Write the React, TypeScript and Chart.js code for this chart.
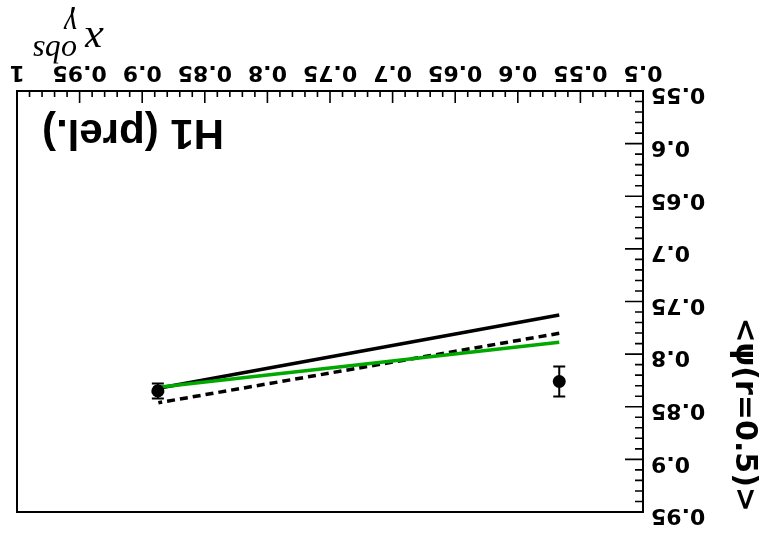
import React, { useEffect, useRef } from "react";
import { Chart, registerables } from "chart.js";
Chart.register(...registerables);

// Axis ranges and tick steps
const xRange = [0.5, 1];
const yRange = [0.55, 0.95];
const xMajorStep = 0.05;
const xMinorStep = 0.01;
const yMajorStep = 0.05;
const yMinorStep = 0.01;

// Measured data points (H1 prel.)
const dataX = [0.5669, 0.8875];
const dataY = [0.826, 0.835];
const dataErr = [0.0143, 0.0071];

// Theory curves (two-point lines)
const curveX = [0.5669, 0.8871];
const solidBlackY = [0.7628, 0.8324];
const dashedBlackY = [0.7802, 0.8462];
const greenY = [0.7888, 0.8315];

const yTitle = "<\u03c8(r=0.5)>";
const plotLabel = "H1 (prel.)";

const W = 762;
const H = 537;
const LABEL_FONT = "'DejaVu Sans', 'Liberation Sans', sans-serif";

const fmt = (v: number) => String(Number(v.toFixed(2)));

const rootStyle = {
  id: "rootStyle",
  afterDatasetsDraw(chart: any) {
    const ctx = chart.ctx;
    const xs = chart.scales.x;
    const ys = chart.scales.y;
    ctx.save();
    ctx.strokeStyle = "#000";
    ctx.lineWidth = 2;
    for (let i = 0; i < dataX.length; i++) {
      const px = xs.getPixelForValue(dataX[i]);
      const top = ys.getPixelForValue(dataY[i] + dataErr[i]);
      const bot = ys.getPixelForValue(dataY[i] - dataErr[i]);
      ctx.beginPath();
      ctx.moveTo(px, top);
      ctx.lineTo(px, bot);
      ctx.moveTo(px - 6, top);
      ctx.lineTo(px + 6, top);
      ctx.moveTo(px - 6, bot);
      ctx.lineTo(px + 6, bot);
      ctx.stroke();
    }
    ctx.restore();
  },
  afterDraw(chart: any) {
    const ctx = chart.ctx;
    const a = chart.chartArea;
    const xs = chart.scales.x;
    const ys = chart.scales.y;
    ctx.save();
    ctx.strokeStyle = "#000";
    ctx.lineWidth = 2;
    ctx.strokeRect(a.left, a.top, a.right - a.left, a.bottom - a.top);
    ctx.lineWidth = 1.6;
    ctx.beginPath();
    const nx = Math.round((xRange[1] - xRange[0]) / xMinorStep);
    for (let i = 0; i <= nx; i++) {
      const v = xRange[0] + i * xMinorStep;
      const px = xs.getPixelForValue(v);
      const len = i % Math.round(xMajorStep / xMinorStep) === 0 ? 12 : 6;
      ctx.moveTo(px, a.bottom);
      ctx.lineTo(px, a.bottom - len);
    }
    const ny = Math.round((yRange[1] - yRange[0]) / yMinorStep);
    for (let i = 0; i <= ny; i++) {
      const v = yRange[0] + i * yMinorStep;
      const py = ys.getPixelForValue(v);
      const len = i % Math.round(yMajorStep / yMinorStep) === 0 ? 18 : 8;
      ctx.moveTo(a.left, py);
      ctx.lineTo(a.left + len, py);
    }
    ctx.stroke();

    // plot label
    ctx.fillStyle = "#000";
    ctx.font = "bold 42px 'Liberation Sans', Arial, sans-serif";
    ctx.textBaseline = "alphabetic";
    ctx.textAlign = "left";
    ctx.fillText(plotLabel, a.right - 207, a.bottom - 29);

    // x axis title: x_gamma^obs
    const bx = a.right - 86;
    const by = a.bottom + 63;
    ctx.font = "italic 42px 'Liberation Serif', 'Times New Roman', serif";
    ctx.fillText("x", bx, by);
    ctx.font = "italic 32px 'Liberation Serif', 'Times New Roman', serif";
    ctx.fillText("obs", bx + 26, by - 13);
    ctx.fillText("\u03b3", bx + 26, by + 14);
    ctx.restore();
  },
};

export default function App() {
  const ref = useRef<HTMLCanvasElement | null>(null);
  useEffect(() => {
    if (!ref.current) return;
    const chart = new Chart(ref.current, {
      type: "line",
      data: {
        datasets: [
          {
            label: "H1 data",
            data: dataX.map((x, i) => ({ x, y: dataY[i] })),
            showLine: false,
            pointRadius: 6.5,
            pointBackgroundColor: "#000",
            pointBorderColor: "#000",
            pointBorderWidth: 0,
          },
          {
            label: "green",
            data: curveX.map((x, i) => ({ x, y: greenY[i] })),
            borderColor: "#00a800",
            borderWidth: 3.5,
            pointRadius: 0,
          },
          {
            label: "dashed",
            data: curveX.map((x, i) => ({ x, y: dashedBlackY[i] })),
            borderColor: "#000",
            borderWidth: 3.5,
            borderDash: [8, 5],
            pointRadius: 0,
          },
          {
            label: "solid",
            data: curveX.map((x, i) => ({ x, y: solidBlackY[i] })),
            borderColor: "#000",
            borderWidth: 3.5,
            pointRadius: 0,
          },
        ],
      },
      options: {
        animation: false,
        responsive: false,
        devicePixelRatio: 1,
        layout: { padding: { left: 0, top: 25, right: 17, bottom: 0 } },
        plugins: { legend: { display: false }, tooltip: { enabled: false } },
        scales: {
          x: {
            type: "linear",
            min: xRange[0],
            max: xRange[1],
            grid: { display: false, drawTicks: false },
            border: { display: false },
            ticks: {
              stepSize: xMajorStep,
              padding: 6,
              color: "#000",
              maxRotation: 0,
              autoSkip: false,
              font: { family: LABEL_FONT, weight: "bold", size: 22 },
              callback: (v: any) => fmt(Number(v)),
            },
            afterFit: (s: any) => {
              s.height = H - 446;
            },
          },
          y: {
            type: "linear",
            min: yRange[0],
            max: yRange[1],
            grid: { display: false, drawTicks: false },
            border: { display: false },
            title: {
              display: true,
              text: yTitle,
              align: "end",
              color: "#000",
              padding: 0,
              font: { family: LABEL_FONT, weight: "bold", size: 30 },
            },
            ticks: {
              stepSize: yMajorStep,
              padding: 8,
              labelOffset: -3,
              color: "#000",
              autoSkip: false,
              font: { family: LABEL_FONT, weight: "bold", size: 22 },
              callback: (v: any) => fmt(Number(v)),
            },
            afterFit: (s: any) => {
              s.width = 119;
            },
          },
        },
      },
      plugins: [rootStyle],
    });
    return () => chart.destroy();
  }, []);
  return (
    <div style={{ position: "fixed", left: 0, top: 0, width: W, height: H, background: "#fff" }}>
      <canvas
        ref={ref}
        width={W}
        height={H}
        style={{ width: W, height: H, display: "block", transform: "rotate(180deg)" }}
      />
    </div>
  );
}
